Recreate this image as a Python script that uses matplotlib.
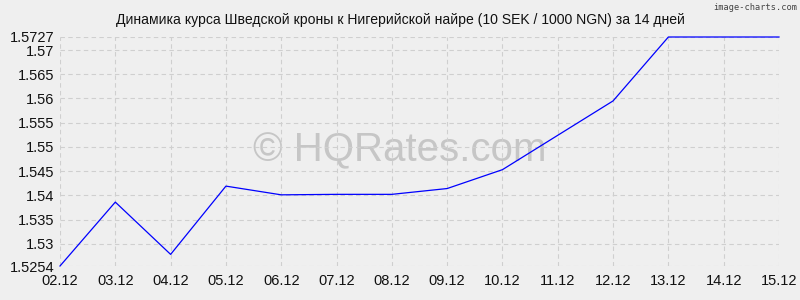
import matplotlib
matplotlib.use('Agg')
import matplotlib.pyplot as plt

plt.rcParams['font.family'] = ['Liberation Sans', 'DejaVu Sans']

dates = ['02.12', '03.12', '04.12', '05.12', '06.12', '07.12', '08.12',
         '09.12', '10.12', '11.12', '12.12', '13.12', '14.12', '15.12']
rates = [1.5254, 1.5386, 1.5278, 1.5419, 1.5401, 1.5402, 1.5402,
         1.5414, 1.5453, 1.5524, 1.5595, 1.5727, 1.5727, 1.5727]
y_ticks = [1.5254, 1.53, 1.535, 1.54, 1.545, 1.55, 1.555, 1.56, 1.565, 1.57, 1.5727]
y_labels = ['1.5254', '1.53', '1.535', '1.54', '1.545', '1.55', '1.555',
            '1.56', '1.565', '1.57', '1.5727']

bg = '#efefef'
fig = plt.figure(figsize=(8, 3), dpi=100, facecolor=bg)
ax = fig.add_axes([60 / 800, 1 - 266 / 300, 719 / 800, 229 / 300])
ax.set_facecolor(bg)

x = list(range(len(dates)))
ax.plot(x, rates, color='#0000ff', lw=0.9, zorder=3, clip_on=False)

ax.set_xlim(0, len(dates) - 1)
ax.set_ylim(y_ticks[0], y_ticks[-1])
ax.set_xticks(x)
ax.set_xticklabels(dates)
ax.set_yticks(y_ticks)
ax.set_yticklabels(y_labels)
ax.tick_params(length=0, labelsize=10.5, colors='#111111', pad=4)
ax.tick_params(axis='x', pad=6)

ax.grid(True, color='#cfcfcf', linestyle=(0, (4, 3)), lw=0.8, zorder=1.5)
for s in ax.spines.values():
    s.set_visible(False)

fig.text(0.5, 1 - 20 / 300,
         'Динамика курса Шведской кроны к Нигерийской найре (10 SEK / 1000 NGN) за 14 дней',
         fontsize=10.1, color='#111111', ha='center', va='center')

# watermark, under the grid
ax.text(0.5, 0.5, '© HQRates.com', transform=fig.transFigure, fontsize=29,
        color='#c6c6c6', ha='center', va='center', zorder=0.5)
fig.text(0.997, 0.99, 'image-charts.com', fontsize=6.2, color='#444444',
         ha='right', va='top', family='DejaVu Sans Mono')

fig.savefig('out.png', dpi=100, facecolor=bg)
